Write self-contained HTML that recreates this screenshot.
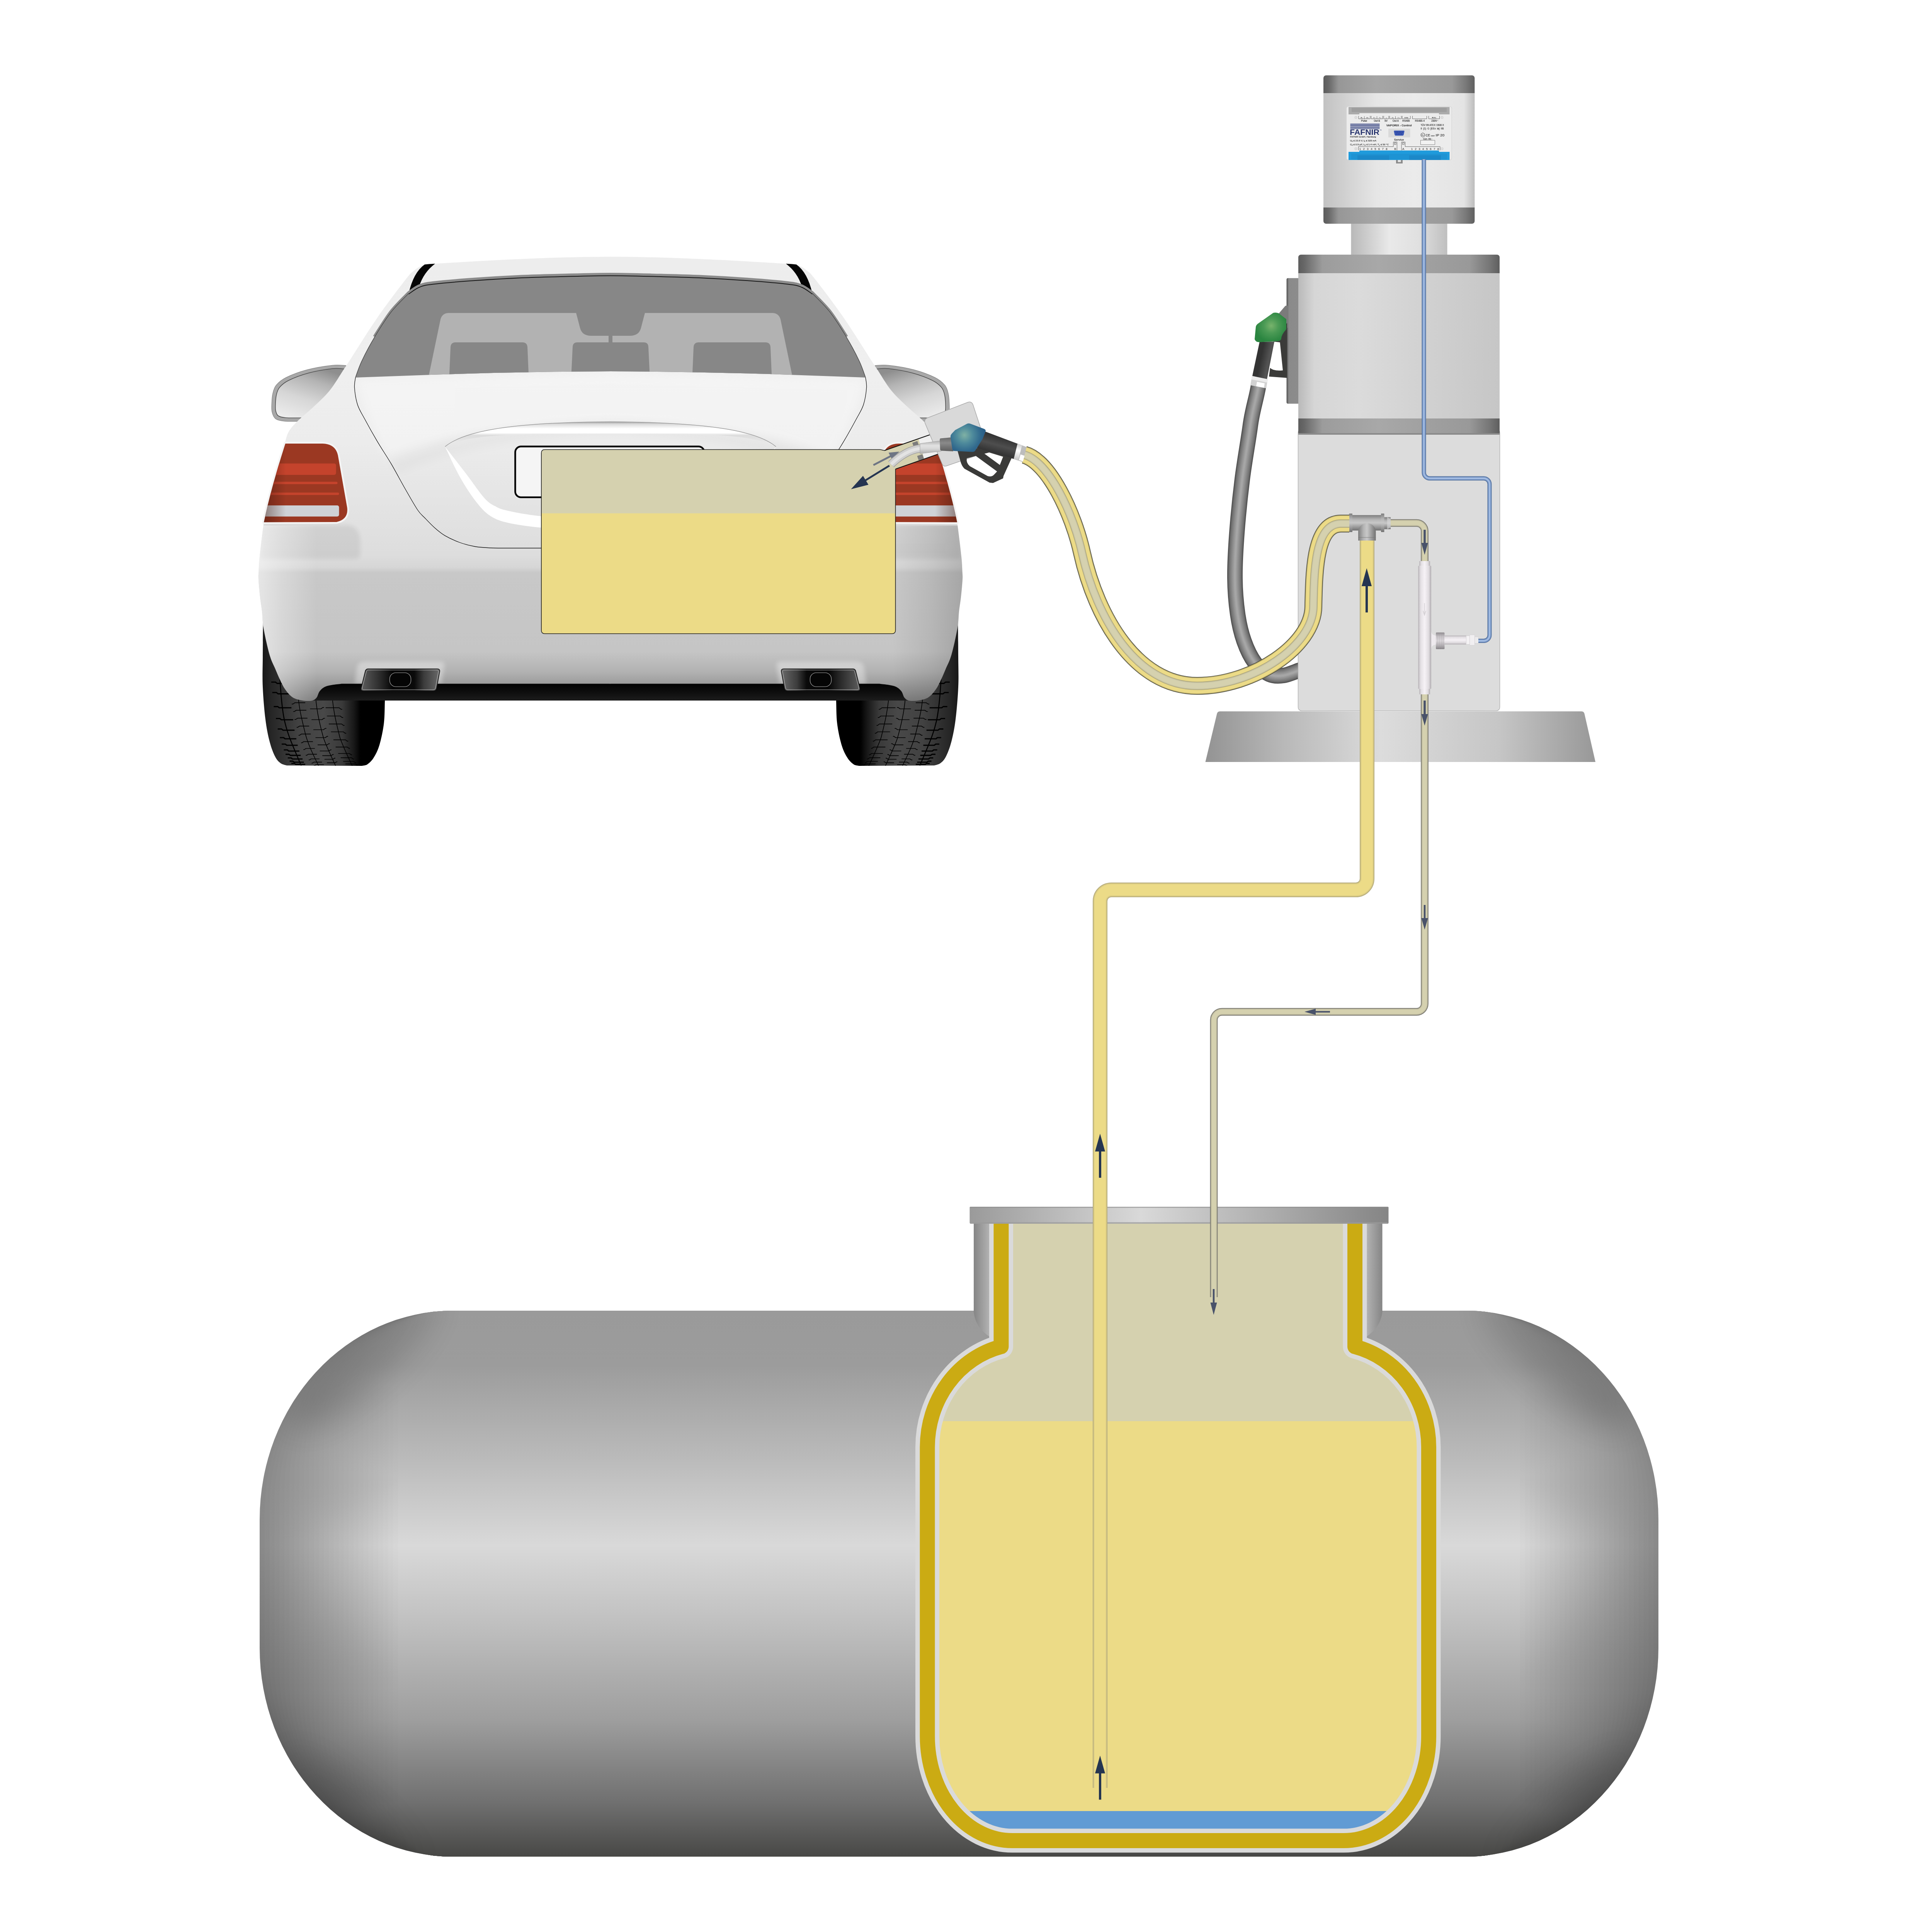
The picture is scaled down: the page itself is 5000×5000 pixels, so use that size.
<!DOCTYPE html>
<html lang="en">
<head>
<meta charset="utf-8">
<title>VAPORIX vapour recovery monitoring</title>
<style>
html,body{margin:0;padding:0;background:#fff;}
svg{display:block;}
text{font-family:"Liberation Sans",sans-serif;}
</style>
</head>
<body>
<svg width="5000" height="5000" viewBox="0 0 5000 5000">
<defs>
<linearGradient id="tankV" x1="0" y1="3392" x2="0" y2="4805" gradientUnits="userSpaceOnUse">
<stop offset="0" stop-color="#9a9a9a"/><stop offset="0.1" stop-color="#9c9c9c"/><stop offset="0.28" stop-color="#bcbcbc"/><stop offset="0.43" stop-color="#d9d9d9"/><stop offset="0.55" stop-color="#c4c4c4"/><stop offset="0.75" stop-color="#9e9e9e"/><stop offset="0.9" stop-color="#707070"/><stop offset="1" stop-color="#484846"/>
</linearGradient>
<linearGradient id="capL" x1="672" y1="0" x2="1230" y2="0" gradientUnits="userSpaceOnUse">
<stop offset="0" stop-color="#000" stop-opacity="0.30"/><stop offset="0.5" stop-color="#000" stop-opacity="0.10"/><stop offset="1" stop-color="#000" stop-opacity="0"/>
</linearGradient>
<linearGradient id="capR" x1="4292" y1="0" x2="3734" y2="0" gradientUnits="userSpaceOnUse">
<stop offset="0" stop-color="#000" stop-opacity="0.30"/><stop offset="0.5" stop-color="#000" stop-opacity="0.10"/><stop offset="1" stop-color="#000" stop-opacity="0"/>
</linearGradient>
<linearGradient id="lidG" x1="2509" y1="0" x2="3593" y2="0" gradientUnits="userSpaceOnUse">
<stop offset="0" stop-color="#9a9a9a"/><stop offset="0.41" stop-color="#d9d9d9"/><stop offset="1" stop-color="#858585"/>
</linearGradient>
<linearGradient id="neckL" x1="2520" y1="0" x2="2560" y2="0" gradientUnits="userSpaceOnUse">
<stop offset="0" stop-color="#858585"/><stop offset="1" stop-color="#b2b2b2"/>
</linearGradient>
<linearGradient id="neckR" x1="3537" y1="0" x2="3578" y2="0" gradientUnits="userSpaceOnUse">
<stop offset="0" stop-color="#b2b2b2"/><stop offset="1" stop-color="#858585"/>
</linearGradient>
<clipPath id="jarClip"><path d="M2591 3160 L2591 3485 A251.5 268 0 0 0 2400 3745 L2400 4493 A220 270 0 0 0 2620 4763.5 L3477.5 4763.5 A220 270 0 0 0 3697.5 4493 L3697.5 3745 A251.5 268 0 0 0 3506.5 3485 L3506.5 3160 Z"/></clipPath>
<clipPath id="tankClip"><rect x="672" y="3392" width="3620" height="1413" rx="500" ry="540"/></clipPath>
<path id="jarPath" d="M2591 3160 L2591 3485 A251.5 268 0 0 0 2400 3745 L2400 4493 A220 270 0 0 0 2620 4763.5 L3477.5 4763.5 A220 270 0 0 0 3697.5 4493 L3697.5 3745 A251.5 268 0 0 0 3506.5 3485 L3506.5 3160"/>
<path id="yPipe" d="M3538 1398 L3538 2274 A29 29 0 0 1 3509 2303 L2876 2303 A29 29 0 0 0 2847 2332 L2847 4627"/>
<path id="vPipeA" d="M3598 1353.5 L3666 1353.5 A21 21 0 0 1 3687 1374.5 L3687 1456"/>
<path id="vPipeB" d="M3687 1794 L3687 2597.6 A21 21 0 0 1 3666 2618.6 L3162.5 2618.6 A21 21 0 0 0 3141.5 2639.6 L3141.5 3357"/>
<path id="cable" d="M3685 412 L3685 1223 A15 15 0 0 0 3700 1238 L3840 1238 A15 15 0 0 1 3855 1253 L3855 1643.5 A15 15 0 0 1 3840 1658.5 L3826 1658.5"/>
<path id="arrUp" d="M0 0 L13 46 L3 46 L3 114 L-3 114 L-3 46 L-13 46 Z"/>
<linearGradient id="topBoxG" x1="3425" y1="0" x2="3816" y2="0" gradientUnits="userSpaceOnUse">
<stop offset="0" stop-color="#c2c2c2"/><stop offset="0.35" stop-color="#e6e6e6"/><stop offset="0.6" stop-color="#ebebeb"/><stop offset="0.93" stop-color="#e4e4e4"/><stop offset="1" stop-color="#bdbdbd"/>
</linearGradient>
<linearGradient id="topBandG" x1="3425" y1="0" x2="3816" y2="0" gradientUnits="userSpaceOnUse">
<stop offset="0" stop-color="#5c5c5c"/><stop offset="0.035" stop-color="#686868"/><stop offset="0.1" stop-color="#979797"/><stop offset="0.35" stop-color="#a6a6a6"/><stop offset="0.85" stop-color="#999"/><stop offset="0.94" stop-color="#7a7a7a"/><stop offset="1" stop-color="#606060"/>
</linearGradient>
<linearGradient id="neckG" x1="3496" y1="0" x2="3746" y2="0" gradientUnits="userSpaceOnUse">
<stop offset="0" stop-color="#b8b8b8"/><stop offset="0.4" stop-color="#e9e9e9"/><stop offset="0.7" stop-color="#e0e0e0"/><stop offset="1" stop-color="#bfbfbf"/>
</linearGradient>
<linearGradient id="midBoxG" x1="3360" y1="0" x2="3881" y2="0" gradientUnits="userSpaceOnUse">
<stop offset="0" stop-color="#b9b9b9"/><stop offset="0.08" stop-color="#d6d6d6"/><stop offset="0.3" stop-color="#dbdbdb"/><stop offset="0.7" stop-color="#cfcfcf"/><stop offset="1" stop-color="#c6c6c6"/>
</linearGradient>
<linearGradient id="midBandG" x1="3360" y1="0" x2="3881" y2="0" gradientUnits="userSpaceOnUse">
<stop offset="0" stop-color="#5c5c5c"/><stop offset="0.03" stop-color="#686868"/><stop offset="0.12" stop-color="#9c9c9c"/><stop offset="0.4" stop-color="#a8a8a8"/><stop offset="0.85" stop-color="#999"/><stop offset="0.95" stop-color="#767676"/><stop offset="1" stop-color="#5e5e5e"/>
</linearGradient>
<linearGradient id="baseG" x1="3119" y1="0" x2="4130" y2="0" gradientUnits="userSpaceOnUse">
<stop offset="0" stop-color="#939393"/><stop offset="0.2" stop-color="#b8b8b8"/><stop offset="0.45" stop-color="#dcdcdc"/><stop offset="0.75" stop-color="#c6c6c6"/><stop offset="1" stop-color="#989898"/>
</linearGradient>
<linearGradient id="plateG" x1="3329" y1="0" x2="3360" y2="0" gradientUnits="userSpaceOnUse">
<stop offset="0" stop-color="#585858"/><stop offset="0.12" stop-color="#6a6a6a"/><stop offset="0.2" stop-color="#8a8a8a"/><stop offset="1" stop-color="#8c8c8c"/>
</linearGradient>
<clipPath id="topBoxClip"><rect x="3425" y="195" width="391.4" height="384" rx="7"/></clipPath>
<clipPath id="midBoxClip"><path d="M3360 667 Q3360 659 3368 659 L3873 659 Q3881 659 3881 667 L3881 1125 L3360 1125 Z"/></clipPath>
<linearGradient id="metalV" x1="0" y1="0" x2="0" y2="1">
<stop offset="0" stop-color="#7e7e7e"/><stop offset="0.3" stop-color="#b6b6b6"/><stop offset="0.5" stop-color="#c8c8c8"/><stop offset="0.75" stop-color="#9e9e9e"/><stop offset="1" stop-color="#727272"/>
</linearGradient>
<linearGradient id="metalH" x1="0" y1="0" x2="1" y2="0">
<stop offset="0" stop-color="#7c7c7c"/><stop offset="0.3" stop-color="#b4b4b4"/><stop offset="0.5" stop-color="#c8c8c8"/><stop offset="0.75" stop-color="#9e9e9e"/><stop offset="1" stop-color="#727272"/>
</linearGradient>
<linearGradient id="whiteH" x1="0" y1="0" x2="1" y2="0">
<stop offset="0" stop-color="#b9b5b9"/><stop offset="0.2" stop-color="#e4e0e4"/><stop offset="0.5" stop-color="#f6f2f6"/><stop offset="0.8" stop-color="#e0dce0"/><stop offset="1" stop-color="#b2aeb2"/>
</linearGradient>
<linearGradient id="whiteV" x1="0" y1="0" x2="0" y2="1">
<stop offset="0" stop-color="#b9b5b9"/><stop offset="0.2" stop-color="#e4e0e4"/><stop offset="0.5" stop-color="#f6f2f6"/><stop offset="0.8" stop-color="#e0dce0"/><stop offset="1" stop-color="#b2aeb2"/>
</linearGradient>
<linearGradient id="nutV" x1="0" y1="0" x2="0" y2="1">
<stop offset="0" stop-color="#8e8a8e"/><stop offset="0.25" stop-color="#c8c4c8"/><stop offset="0.5" stop-color="#dcd8dc"/><stop offset="0.8" stop-color="#b0acb0"/><stop offset="1" stop-color="#858185"/>
</linearGradient>
<path id="yHose" d="M2651 1177 C2715 1195 2778 1330 2800 1430 C2837 1598 2940 1775 3098 1775 C3245 1775 3398 1670 3399 1570 C3401 1470 3404 1356 3470 1355 L3492 1355"/>
<path id="gHose" d="M3257.0 998.0 C3252 1030 3241.3 1060.0 3236.0 1100.0 C3230.7 1140.0 3220.8 1193.4 3215.0 1240.0 C3209.2 1286.6 3204.2 1336.8 3201.0 1379.5 C3197.8 1422.2 3195.7 1461.1 3196.0 1496.0 C3196.3 1530.9 3199.1 1561.8 3203.0 1589.0 C3206.9 1616.2 3212.1 1638.0 3219.5 1659.0 C3226.9 1680.0 3236.6 1700.2 3247.5 1715.0 C3258.4 1729.8 3272.6 1739.3 3285.0 1745 C3297.4 1750.5 3309.2 1750 3322.0 1748.0 C3334.8 1746 3355.3 1737.0 3362.0 1735.0 L3390 1726"/>
<radialGradient id="greenG" cx="3290" cy="843" r="42" gradientUnits="userSpaceOnUse">
<stop offset="0" stop-color="#78b36c"/><stop offset="0.45" stop-color="#4b9a55"/><stop offset="1" stop-color="#2a8540"/>
</radialGradient>
<linearGradient id="handleG" x1="3262" y1="930" x2="3300" y2="938" gradientUnits="userSpaceOnUse">
<stop offset="0" stop-color="#333"/><stop offset="0.55" stop-color="#545454"/><stop offset="1" stop-color="#3a3a3a"/>
</linearGradient>
<radialGradient id="blueG" cx="2496" cy="1126" r="52" gradientUnits="userSpaceOnUse">
<stop offset="0" stop-color="#7fb1a4"/><stop offset="0.4" stop-color="#4f8b9c"/><stop offset="0.8" stop-color="#31698d"/><stop offset="1" stop-color="#2b5f88"/>
</radialGradient>
<linearGradient id="gripG" x1="2590" y1="1128" x2="2578" y2="1172" gradientUnits="userSpaceOnUse">
<stop offset="0" stop-color="#303030"/><stop offset="0.55" stop-color="#4e4e4e"/><stop offset="1" stop-color="#343434"/>
</linearGradient>
<linearGradient id="collarG" x1="0" y1="1132" x2="0" y2="1168" gradientUnits="userSpaceOnUse">
<stop offset="0" stop-color="#6a6a6a"/><stop offset="0.4" stop-color="#8a8a8a"/><stop offset="1" stop-color="#5e5e5e"/>
</linearGradient>
<linearGradient id="spoutG" x1="0" y1="1142" x2="0" y2="1174" gradientUnits="userSpaceOnUse">
<stop offset="0" stop-color="#b5b5b5"/><stop offset="0.35" stop-color="#e2e2e2"/><stop offset="0.6" stop-color="#d8d8d8"/><stop offset="1" stop-color="#ababab"/>
</linearGradient>
<linearGradient id="ringG" x1="2638" y1="1150" x2="2628" y2="1190" gradientUnits="userSpaceOnUse">
<stop offset="0" stop-color="#d0d0d0"/><stop offset="0.4" stop-color="#ffffff"/><stop offset="1" stop-color="#c4c4c4"/>
</linearGradient>
<linearGradient id="tankRim" x1="0" y1="3392" x2="0" y2="4805" gradientUnits="userSpaceOnUse">
<stop offset="0" stop-color="#848484"/><stop offset="0.15" stop-color="#888"/><stop offset="0.43" stop-color="#8a8a8a"/><stop offset="0.7" stop-color="#717171"/><stop offset="0.92" stop-color="#515151"/><stop offset="1" stop-color="#474745"/>
</linearGradient>
<filter id="blur40" x="600" y="3300" width="3800" height="1600" filterUnits="userSpaceOnUse"><feGaussianBlur stdDeviation="40"/></filter>


<linearGradient id="bodyG" x1="0" y1="664" x2="0" y2="1813" gradientUnits="userSpaceOnUse">
<stop offset="0" stop-color="#ededed"/><stop offset="0.27" stop-color="#efefef"/><stop offset="0.42" stop-color="#ececec"/><stop offset="0.55" stop-color="#e4e4e4"/><stop offset="0.672" stop-color="#dddddd"/><stop offset="0.70" stop-color="#d6d6d6"/><stop offset="0.712" stop-color="#c8c8c8"/><stop offset="0.89" stop-color="#c5c5c5"/><stop offset="0.935" stop-color="#b2b2b2"/><stop offset="0.965" stop-color="#9a9a9a"/><stop offset="0.99" stop-color="#868686"/><stop offset="1" stop-color="#7e7e7e"/>
</linearGradient>
<linearGradient id="bumpHL" x1="668" y1="0" x2="820" y2="0" gradientUnits="userSpaceOnUse">
<stop offset="0" stop-color="#fff" stop-opacity="0.55"/><stop offset="0.4" stop-color="#fff" stop-opacity="0.3"/><stop offset="1" stop-color="#fff" stop-opacity="0"/>
</linearGradient>
<linearGradient id="tireG" x1="677" y1="0" x2="997" y2="0" gradientUnits="userSpaceOnUse">
<stop offset="0" stop-color="#161616"/><stop offset="0.08" stop-color="#262626"/><stop offset="0.3" stop-color="#424242"/><stop offset="0.5" stop-color="#484848"/><stop offset="0.65" stop-color="#3a3a3a"/><stop offset="0.75" stop-color="#161616"/><stop offset="0.8" stop-color="#000"/><stop offset="1" stop-color="#000"/>
</linearGradient>
<linearGradient id="underG" x1="0" y1="1764" x2="0" y2="1813" gradientUnits="userSpaceOnUse">
<stop offset="0" stop-color="#000"/><stop offset="0.5" stop-color="#0c0c0c"/><stop offset="1" stop-color="#1c1c1c"/>
</linearGradient>
<linearGradient id="mirrorG" x1="815" y1="948" x2="770" y2="1088" gradientUnits="userSpaceOnUse">
<stop offset="0" stop-color="#8e8e8e"/><stop offset="0.25" stop-color="#b4b4b4"/><stop offset="0.6" stop-color="#d6d6d6"/><stop offset="1" stop-color="#ececec"/>
</linearGradient>
<linearGradient id="lampG" x1="683" y1="0" x2="760" y2="0" gradientUnits="userSpaceOnUse">
<stop offset="0" stop-color="#9b3822"/><stop offset="1" stop-color="#9b3822"/>
</linearGradient>
<linearGradient id="lampShade" x1="675" y1="0" x2="740" y2="0" gradientUnits="userSpaceOnUse">
<stop offset="0" stop-color="#3a1208" stop-opacity="0.5"/><stop offset="1" stop-color="#3a1208" stop-opacity="0"/>
</linearGradient>
<linearGradient id="chromeG" x1="0" y1="1091" x2="0" y2="1156" gradientUnits="userSpaceOnUse">
<stop offset="0" stop-color="#9c9c9c"/><stop offset="0.1" stop-color="#dadada"/><stop offset="0.28" stop-color="#ffffff"/><stop offset="0.45" stop-color="#ffffff"/><stop offset="0.55" stop-color="#dcdcdc"/><stop offset="1" stop-color="#efefef"/>
</linearGradient>
<linearGradient id="exhG" x1="934" y1="0" x2="1138" y2="0" gradientUnits="userSpaceOnUse">
<stop offset="0" stop-color="#5e5e5e"/><stop offset="0.25" stop-color="#2a2a2a"/><stop offset="0.4" stop-color="#050505"/><stop offset="0.68" stop-color="#0a0a0a"/><stop offset="0.8" stop-color="#3c3c3c"/><stop offset="1" stop-color="#6a6a6a"/>
</linearGradient>
<filter id="blur6" x="-20%" y="-20%" width="140%" height="140%"><feGaussianBlur stdDeviation="6"/></filter>
<filter id="blur12" x="-20%" y="-20%" width="140%" height="140%"><feGaussianBlur stdDeviation="12"/></filter>
<linearGradient id="bumpSH" x1="668" y1="0" x2="850" y2="0" gradientUnits="userSpaceOnUse">
<stop offset="0" stop-color="#000" stop-opacity="0.17"/><stop offset="0.45" stop-color="#000" stop-opacity="0.08"/><stop offset="1" stop-color="#000" stop-opacity="0"/>
</linearGradient>
<clipPath id="winClip"><path d="M1582.0 712.0 C1538.0 712.0 1488.7 713.6 1450.0 714.5 C1411.3 715.4 1386.7 715.8 1350.0 717.5 C1313.3 719.2 1267.9 721.8 1229.7 724.5 C1191.5 727.2 1145.1 731.1 1121.0 734.0 C1096.9 736.9 1095.6 737.8 1085.0 742.0 C1074.4 746.2 1062.2 756.6 1057.6 759.5 L1057.6 759.5 C1050.0 767.6 1026.8 789.0 1012.0 808.0 C997.2 827.0 981.5 852.4 968.8 873.6 C956.1 894.8 944.1 917.8 936.0 935.0 C927.9 952.2 922.7 970.0 920.0 977.0 L1115.6 970 Q1350 961.5 1582 961 Z"/></clipPath>
<clipPath id="bodyClip"><path d="M1582.0 664.5 C1538.0 664.5 1497.0 665.2 1450.0 666.5 C1403.0 667.8 1341.7 670.6 1300.0 672.5 C1258.3 674.4 1229.0 676.3 1200.0 678.0 C1171.0 679.7 1138.3 681.8 1126.0 682.5 L1126.0 682.5 C1121.5 682.8 1108.0 681.6 1099.0 684.5 C1090.0 687.4 1080.4 693.2 1072.0 700.0 C1063.6 706.8 1064.5 704.5 1048.5 725.0 C1032.5 745.5 1000.1 788.0 976.0 823.0 C951.9 858.0 918.1 912.7 903.6 935.0 C889.1 957.3 897.4 944.3 889.0 957.0 C880.6 969.7 866.3 994.7 853.0 1011.0 C839.7 1027.3 822.7 1042.1 809.4 1054.8 C796.1 1067.5 783.3 1076.8 773.0 1087.0 C762.7 1097.2 753.8 1106.0 747.8 1116.0 C741.8 1126.0 738.8 1141.8 737.0 1147.0 L737.0 1147.0 C732.8 1162.5 720.2 1210.3 712.0 1240.0 C703.8 1269.7 693.0 1305.3 688.0 1325.0 C683.0 1344.7 684.7 1338.8 682.0 1358.0 C679.3 1377.2 674.1 1420.0 672.0 1440.0 C669.9 1460.0 670.0 1468.0 669.5 1478.0 C669.0 1488.0 668.4 1488.8 669.0 1500.0 C669.6 1511.2 671.5 1531.3 673.0 1545.0 C674.5 1558.7 676.5 1568.7 678.0 1582.0 C679.5 1595.3 678.8 1606.3 682.0 1625.0 C685.2 1643.7 692.5 1676.5 697.5 1694.0 C702.5 1711.5 707.4 1719.0 712.0 1730.0 C716.6 1741.0 720.7 1751.0 725.0 1760.0 C729.3 1769.0 732.7 1776.6 738.0 1784.0 C743.3 1791.4 749.8 1799.8 757.0 1804.5 C764.2 1809.2 772.8 1811.0 781.0 1812.5 C789.2 1814.0 799.7 1814.6 806.0 1813.5 C812.3 1812.4 815.3 1810.2 819.0 1806.0 C822.7 1801.8 823.5 1793.1 828.0 1788.0 C832.5 1782.9 836.7 1778.6 846.0 1775.5 C855.3 1772.4 877.7 1770.5 884.0 1769.5 L1582 1769.5 Z"/></clipPath>
<clipPath id="tireClip"><path d="M681.0 1590.0 C680.8 1608.3 680.2 1668.7 680.0 1700.0 C679.8 1731.3 678.8 1751.0 680.0 1778.0 C681.2 1805.0 684.0 1838.3 687.0 1862.0 C690.0 1885.7 693.8 1904.0 698.0 1920.0 C702.2 1936.0 707.3 1948.8 712.0 1958.0 C716.7 1967.2 721.0 1971.2 726.0 1975.0 C731.0 1978.8 739.3 1980.0 742.0 1981.0 L937 1982 L937.0 1982.0 C939.3 1981.3 946.0 1981.5 951.0 1978.0 C956.0 1974.5 961.8 1969.3 967.0 1961.0 C972.2 1952.7 977.6 1942.8 982.0 1928.0 C986.4 1913.2 991.2 1891.0 993.5 1872.0 C995.8 1853.0 995.4 1829.3 996.0 1814.0 C996.6 1798.7 996.8 1785.7 997.0 1780.0 L997 1600 Z"/></clipPath>
<clipPath id="lampClip"><path d="M738.5 1148 L835 1148 Q868 1149 874.5 1178 L898.5 1314 Q902 1344 871 1351 L683 1351.5 Q700 1268 738.5 1148 Z"/></clipPath>

</defs>
<rect width="5000" height="5000" fill="#fff"/>
<g id="tank">
<rect x="672" y="3392" width="3620" height="1413" rx="500" ry="540" fill="url(#tankRim)"/>
<g clip-path="url(#tankClip)">
<rect x="684.8" y="3392" width="3594.4" height="1413" rx="486.1" ry="525.0" fill="url(#tankV)" opacity="0.0357"/>
<rect x="697.6" y="3392" width="3568.9" height="1413" rx="472.1" ry="510.0" fill="url(#tankV)" opacity="0.0370"/>
<rect x="710.4" y="3392" width="3543.3" height="1413" rx="458.2" ry="495.0" fill="url(#tankV)" opacity="0.0385"/>
<rect x="723.1" y="3392" width="3517.7" height="1413" rx="444.3" ry="480.0" fill="url(#tankV)" opacity="0.0400"/>
<rect x="735.9" y="3392" width="3492.1" height="1413" rx="430.4" ry="465.0" fill="url(#tankV)" opacity="0.0417"/>
<rect x="748.7" y="3392" width="3466.6" height="1413" rx="416.4" ry="450.0" fill="url(#tankV)" opacity="0.0435"/>
<rect x="761.5" y="3392" width="3441.0" height="1413" rx="402.5" ry="435.0" fill="url(#tankV)" opacity="0.0455"/>
<rect x="774.3" y="3392" width="3415.4" height="1413" rx="388.6" ry="420.0" fill="url(#tankV)" opacity="0.0476"/>
<rect x="787.1" y="3392" width="3389.9" height="1413" rx="374.6" ry="405.0" fill="url(#tankV)" opacity="0.0500"/>
<rect x="799.9" y="3392" width="3364.3" height="1413" rx="360.7" ry="390.0" fill="url(#tankV)" opacity="0.0526"/>
<rect x="812.6" y="3392" width="3338.7" height="1413" rx="346.8" ry="375.0" fill="url(#tankV)" opacity="0.0556"/>
<rect x="825.4" y="3392" width="3313.1" height="1413" rx="332.9" ry="360.0" fill="url(#tankV)" opacity="0.0588"/>
<rect x="838.2" y="3392" width="3287.6" height="1413" rx="318.9" ry="345.0" fill="url(#tankV)" opacity="0.0625"/>
<rect x="851.0" y="3392" width="3262.0" height="1413" rx="305.0" ry="330.0" fill="url(#tankV)" opacity="0.0667"/>
<rect x="863.8" y="3392" width="3236.4" height="1413" rx="291.1" ry="315.0" fill="url(#tankV)" opacity="0.0714"/>
<rect x="876.6" y="3392" width="3210.9" height="1413" rx="277.1" ry="300.0" fill="url(#tankV)" opacity="0.0769"/>
<rect x="889.4" y="3392" width="3185.3" height="1413" rx="263.2" ry="285.0" fill="url(#tankV)" opacity="0.0833"/>
<rect x="902.1" y="3392" width="3159.7" height="1413" rx="249.3" ry="270.0" fill="url(#tankV)" opacity="0.0909"/>
<rect x="914.9" y="3392" width="3134.1" height="1413" rx="235.4" ry="255.0" fill="url(#tankV)" opacity="0.1000"/>
<rect x="927.7" y="3392" width="3108.6" height="1413" rx="221.4" ry="240.0" fill="url(#tankV)" opacity="0.1111"/>
<rect x="940.5" y="3392" width="3083.0" height="1413" rx="207.5" ry="225.0" fill="url(#tankV)" opacity="0.1250"/>
<rect x="953.3" y="3392" width="3057.4" height="1413" rx="193.6" ry="210.0" fill="url(#tankV)" opacity="0.1429"/>
<rect x="966.1" y="3392" width="3031.9" height="1413" rx="179.6" ry="195.0" fill="url(#tankV)" opacity="0.1667"/>
<rect x="978.9" y="3392" width="3006.3" height="1413" rx="165.7" ry="180.0" fill="url(#tankV)" opacity="0.2000"/>
<rect x="991.6" y="3392" width="2980.7" height="1413" rx="151.8" ry="165.0" fill="url(#tankV)" opacity="0.2500"/>
<rect x="1004.4" y="3392" width="2955.1" height="1413" rx="137.9" ry="150.0" fill="url(#tankV)" opacity="0.3333"/>
<rect x="1017.2" y="3392" width="2929.6" height="1413" rx="123.9" ry="135.0" fill="url(#tankV)" opacity="0.5000"/>
<rect x="1030.0" y="3392" width="2904.0" height="1413" rx="110.0" ry="120.0" fill="url(#tankV)" opacity="1.0000"/>
</g>
<g clip-path="url(#tankClip)" filter="url(#blur40)" fill="#000" opacity="0.14">
<ellipse cx="0" cy="0" rx="250" ry="75" transform="translate(935 3520) rotate(-42)"/>
<ellipse cx="0" cy="0" rx="250" ry="75" transform="translate(4029 3520) rotate(42)"/>
<ellipse cx="0" cy="0" rx="230" ry="60" transform="translate(905 4690) rotate(42)" opacity="0.6"/>
<ellipse cx="0" cy="0" rx="230" ry="60" transform="translate(4059 4690) rotate(-42)" opacity="0.6"/>
</g>
<!-- neck outer -->
<path d="M2520 3160 L2520 3395 Q2524 3436 2562 3460 L2562 3160 Z" fill="url(#neckL)"/>
<path d="M3577.5 3160 L3577.5 3395 Q3573 3436 3535 3460 L3535 3160 Z" fill="url(#neckR)"/>
<!-- contents -->
<g clip-path="url(#jarClip)">
<rect x="2380" y="3150" width="1340" height="528" fill="#d5d1af"/>
<rect x="2380" y="3678" width="1340" height="1009" fill="#ecdb87"/>
<rect x="2380" y="4687" width="1340" height="90" fill="#619bd4"/>
</g>
<use href="#jarPath" fill="none" stroke="#dadada" stroke-width="62" stroke-linejoin="round"/>
<use href="#jarPath" fill="none" stroke="#cbab13" stroke-width="39" stroke-linejoin="round"/>
</g>

<g id="hoseback" fill="none">
<use href="#gHose" stroke="#4d4d4d" stroke-width="40"/>
<use href="#gHose" stroke="#5e5e5e" stroke-width="37"/>
<use href="#gHose" stroke="#6e6e6e" stroke-width="33"/>
<use href="#gHose" stroke="#7b7b7b" stroke-width="28"/>
<use href="#gHose" stroke="#878787" stroke-width="22"/>
<use href="#gHose" stroke="#939393" stroke-width="16"/>
<use href="#gHose" stroke="#9d9d9d" stroke-width="10"/>
<use href="#gHose" stroke="#a6a6a6" stroke-width="5"/>
</g>

<g id="dispenser">
<!-- base -->
<path d="M3157 1841 L4093 1841 Q4099 1841 4100.5 1847 L4129 1972 L3119.5 1972 L3149.5 1847 Q3151 1841 3157 1841 Z" fill="url(#baseG)"/>

<!-- neck -->
<rect x="3496.5" y="575" width="249" height="88" fill="url(#neckG)"/>
<!-- lower body -->
<rect x="3359" y="1110" width="523" height="730" rx="9" fill="#dcdcdc"/>
<rect x="3359.5" y="1110.5" width="522" height="729" rx="9" fill="none" stroke="#b5b5b5" stroke-width="1.5"/>
<!-- nozzle holder plate -->
<rect x="3329.5" y="719.7" width="34" height="325" rx="4" fill="url(#plateG)"/>
<!-- middle box -->
<g clip-path="url(#midBoxClip)">
<rect x="3360" y="659" width="521" height="466" fill="url(#midBoxG)"/>
<rect x="3360" y="659" width="521" height="48" fill="url(#midBandG)"/>
<rect x="3360" y="1083" width="521" height="38" fill="url(#midBandG)"/>
<rect x="3360" y="1121" width="521" height="4" fill="#8a8a8a"/>
</g>
<!-- top box -->
<g clip-path="url(#topBoxClip)">
<rect x="3425" y="195" width="392" height="384" fill="url(#topBoxG)"/>
<rect x="3425" y="195" width="392" height="46" fill="url(#topBandG)"/>
<rect x="3425" y="537" width="392" height="42" fill="url(#topBandG)"/>
</g>
</g>

<g id="fafnirbox">
<rect x="3484.5" y="275.5" width="272.5" height="138.5" rx="5" fill="#ececec" stroke="#d4d4d4" stroke-width="1.2"/>
<path d="M3490 277 L3751.5 277 L3751.5 296 L3724 296 L3724 293 L3518 293 L3518 296 L3490 296 Z" fill="#ababab"/>
<rect x="3498" y="279" width="246" height="11" fill="#9e9e9e"/>
<path d="M3490 414 L3490 393 L3518 393 L3518 389.5 L3724 389.5 L3724 393 L3751.5 393 L3751.5 414 Z" fill="#1f9bdc"/>
<path d="M3497 398 L3745 398 L3745 412.5 L3497 412.5 Z" fill="#1e93d3"/>
<rect x="3513" y="402" width="82" height="12" fill="#1b88c8"/>
<rect x="3647" y="402" width="82" height="12" fill="#1b88c8"/>
<rect x="3613" y="414" width="17" height="9" fill="#8a8a8a"/><rect x="3617.5" y="414" width="8" height="5.5" fill="#e6e6e6"/>
<!-- screws -->
<g fill="#e0e0e0" stroke="#c4c4c4" stroke-width="0.7"><circle cx="3509" cy="304" r="3.2"/><circle cx="3732" cy="304" r="3.2"/><circle cx="3509" cy="385" r="3.2"/><circle cx="3732" cy="385" r="3.2"/></g>
<!-- top terminal brackets -->
<g fill="none" stroke="#444" stroke-width="0.8">
<path d="M3516 300 V307.5 H3546 V300 M3531 301 V307.5"/>
<path d="M3548.5 300 V307.5 H3578.5 V300 M3563.5 301 V307.5"/>
<path d="M3581 300 V307.5 H3594 V300"/>
<path d="M3596.5 300 V307.5 H3626.5 V300 M3611.5 301 V307.5"/>
<path d="M3629 300 V307.5 H3650 V300"/>
<path d="M3655.5 300 V307.5 H3692.5 V300"/>
<path d="M3697.5 300 V307.5 H3725.5 V300"/>
</g>
<g font-size="3.6" fill="#222" text-anchor="middle" font-weight="bold">
<text x="3523.5" y="305.6">- B +</text><text x="3538.5" y="305.6">- A +</text>
<text x="3556" y="305.6">- 2 +</text><text x="3571" y="305.6">- 1 +</text>
<text x="3587.5" y="305.6">- +</text>
<text x="3604" y="305.6">- 2 +</text><text x="3619" y="305.6">- 1 +</text>
<text x="3639.5" y="305.6">G B A</text>
<text x="3711.5" y="305.6">PE N L</text>
</g>
<g font-size="6.3" fill="#222" text-anchor="middle" stroke="#222" stroke-width="0.15">
<text x="3530.5" y="314.8">Pulse</text><text x="3563.5" y="314.8">Out B</text><text x="3587" y="314.8">5V</text><text x="3612" y="314.8">Out A</text><text x="3639" y="314.8">RS485</text><text x="3674.5" y="314.8">RS485-4</text><text x="3713.5" y="314.8">230V~</text>
</g>
<!-- logo -->
<g fill="#2b3a7c"><rect x="3494.5" y="320.3" width="76" height="2.2"/><rect x="3494.5" y="324.2" width="76" height="2.2"/><rect x="3494.5" y="328.1" width="76" height="2.2"/><rect x="3494.5" y="332" width="76" height="1.6"/></g>
<text x="3493.3" y="349.3" font-size="19.6" font-weight="bold" fill="#27346e" textLength="76.5" lengthAdjust="spacingAndGlyphs">FAFNIR</text>
<text x="3571" y="337.5" font-size="3" fill="#27346e">TM</text>
<g font-size="5.9" fill="#222" stroke="#222" stroke-width="0.12">
<text x="3494" y="356.4" textLength="67" lengthAdjust="spacingAndGlyphs">FAFNIR GmbH, Hamburg</text>
<text x="3494" y="366.2" textLength="68" lengthAdjust="spacingAndGlyphs">U<tspan font-size="3.8" dy="1">0</tspan><tspan dy="-1"> ≤ 23.9 V, I</tspan><tspan font-size="3.8" dy="1">0</tspan><tspan dy="-1"> ≤ 325 mA</tspan></text>
<text x="3494" y="376" textLength="100" lengthAdjust="spacingAndGlyphs">C<tspan font-size="3.8" dy="1">0</tspan><tspan dy="-1"> ≤ 0.9 µF, L</tspan><tspan font-size="3.8" dy="1">0</tspan><tspan dy="-1"> ≤ 1.4 mH, T</tspan><tspan font-size="3.8" dy="1">a</tspan><tspan dy="-1"> ≤ 50 °C</tspan></text>
</g>
<text x="3620.7" y="326.5" font-size="6.6" font-weight="bold" fill="#222" text-anchor="middle" textLength="66" lengthAdjust="spacingAndGlyphs">VAPORIX - Control</text>
<rect x="3593" y="333" width="56.5" height="22.5" rx="1" fill="#dadada"/>
<circle cx="3598.5" cy="344.3" r="1.7" fill="#ececec" stroke="#bbb" stroke-width="0.5"/><circle cx="3644" cy="344.3" r="1.7" fill="#ececec" stroke="#bbb" stroke-width="0.5"/>
<path d="M3609 338 H3633 Q3635 338 3634.6 340 L3632.6 349 Q3632 351 3630 351 H3612 Q3610 351 3609.4 349 L3607.4 340 Q3607 338 3609 338 Z" fill="#3a57b4"/>
<g fill="#1c2d78"><circle cx="3613" cy="342" r="1"/><circle cx="3617" cy="342" r="1"/><circle cx="3621" cy="342" r="1"/><circle cx="3625" cy="342" r="1"/><circle cx="3629" cy="342" r="1"/><circle cx="3615" cy="346.8" r="1"/><circle cx="3619" cy="346.8" r="1"/><circle cx="3623" cy="346.8" r="1"/><circle cx="3627" cy="346.8" r="1"/></g>
<text x="3620.7" y="364.2" font-size="7.8" fill="#222" text-anchor="middle" stroke="#222" stroke-width="0.12">Service</text>
<g font-size="6.3" fill="#222" stroke="#222" stroke-width="0.12">
<text x="3676.5" y="326.3">TÜV 99 ATEX 1508 X</text>
<text x="3676.5" y="334.8" word-spacing="1.5">II (1) G [EEx ia] IIB</text>
<text x="3689.5" y="352.7" font-size="8.4">CE</text><text x="3703.3" y="352.7" font-size="4.4">0032</text><text x="3715.5" y="352.9" font-size="9.8">IP 20</text>
<text x="3683" y="361.5">Ger.-Nr.:</text>
</g>
<path d="M3682.3 343.8 L3687 346.5 V352 L3682.3 354.7 L3677.6 352 V346.5 Z" fill="none" stroke="#222" stroke-width="0.9"/><text x="3682.3" y="351" font-size="4.4" font-weight="bold" fill="#222" text-anchor="middle">Ex</text>
<rect x="3676.5" y="363" width="37" height="11.3" fill="#f2f2f2" stroke="#555" stroke-width="0.7"/>
<!-- bottom terminal brackets -->
<g fill="none" stroke="#444" stroke-width="0.8">
<path d="M3515.5 389 V379.5 H3606 V367.5 H3615.5 V389"/>
<path d="M3627 389 V367.5 H3636.5 V379.5 H3727 V389"/>
<rect x="3608.5" y="369.5" width="4.4" height="4.4" fill="#ececec"/><rect x="3629.6" y="369.5" width="4.4" height="4.4" fill="#ececec"/>
</g>
<g font-size="8" fill="#222" text-anchor="middle">
<text x="3520" y="387.6">1</text><text x="3529.8" y="387.6">2</text><text x="3539.6" y="387.6">3</text><text x="3549.4" y="387.6">4</text><text x="3559.2" y="387.6">5</text><text x="3569" y="387.6">6</text><text x="3578.8" y="387.6">7</text><text x="3588.6" y="387.6">8</text>
<text x="3611" y="387.6">B</text><text x="3631.7" y="387.6">A</text>
<text x="3654" y="387.6">1</text><text x="3663.7" y="387.6">2</text><text x="3673.4" y="387.6">3</text><text x="3683.1" y="387.6">4</text><text x="3692.8" y="387.6">5</text><text x="3702.5" y="387.6">6</text><text x="3712.2" y="387.6">7</text><text x="3721.9" y="387.6">8</text>
</g>
</g>

<g id="pipes" fill="none">
<!-- lid -->
<rect x="2509.5" y="3123" width="1084" height="44" rx="3" fill="url(#lidG)"/>
<rect x="2509.5" y="3123" width="1084" height="3" rx="1.5" fill="#8e8e8e" opacity="0.6"/>
<rect x="2512" y="3163" width="1079" height="4" fill="#9a9a9a" opacity="0.7"/>
<!-- yellow supply pipe -->
<use href="#yPipe" stroke="#b0a77e" stroke-width="38"/>
<use href="#yPipe" stroke="#c2b77f" stroke-width="36"/>
<use href="#yPipe" stroke="#d6c883" stroke-width="33.5"/>
<use href="#yPipe" stroke="#e3d386" stroke-width="31"/>
<use href="#yPipe" stroke="#ecdb87" stroke-width="28"/>
<!-- vapour return pipe -->
<use href="#vPipeB" stroke="#6e6d66" stroke-width="19.6"/>
<use href="#vPipeB" stroke="#9a9887" stroke-width="17.4"/>
<use href="#vPipeB" stroke="#bdb99e" stroke-width="15"/>
<use href="#vPipeB" stroke="#cfcbab" stroke-width="12.5"/>
<use href="#vPipeB" stroke="#d5d1af" stroke-width="10"/>
<!-- arrows -->
<use href="#arrUp" transform="translate(2847 4543.5)" fill="#253551"/>
<use href="#arrUp" transform="translate(2847 2934)" fill="#253551"/>
<g fill="#49526a">
<path d="M3141 3403 L3132.5 3371 L3138.7 3371 L3138.7 3336 L3143.3 3336 L3143.3 3371 L3149.5 3371 Z"/>
<path d="M3687 2406 L3678.5 2376 L3684.7 2376 L3684.7 2342 L3689.3 2342 L3689.3 2376 L3695.5 2376 Z"/>
<path d="M3376 2618.6 L3405 2610.6 L3405 2616.6 L3442 2616.6 L3442 2620.6 L3405 2620.6 L3405 2626.6 Z"/>
</g>
</g>
<g id="fittings" fill="none">
<!-- vapour pipe from T to sensor -->
<use href="#vPipeA" stroke="#6e6d66" stroke-width="19.6"/>
<use href="#vPipeA" stroke="#9a9887" stroke-width="17.4"/>
<use href="#vPipeA" stroke="#bdb99e" stroke-width="15"/>
<use href="#vPipeA" stroke="#cfcbab" stroke-width="12.5"/>
<use href="#vPipeA" stroke="#d5d1af" stroke-width="10"/>
<path d="M3687 1436 L3678.5 1405 L3684.2 1405 L3684.2 1371 L3689.8 1371 L3689.8 1405 L3695.5 1405 Z" fill="#49526a"/>
<path d="M3687 1878 L3678.5 1848 L3684.2 1848 L3684.2 1813 L3689.8 1813 L3689.8 1848 L3695.5 1848 Z" fill="#49526a"/>
<!-- big arrow in supply pipe -->
<path d="M3537 1470.5 L3550 1517 L3540 1517 L3540 1585 L3534 1585 L3534 1517 L3524 1517 Z" fill="#253551"/>
<!-- T fitting -->
<rect x="3582" y="1338.5" width="17" height="31" fill="url(#metalV)"/>
<path d="M3590 1338.5 L3599 1343 L3599 1365 L3590 1369.6 Z" fill="#dadada" opacity="0.6"/>
<rect x="3496" y="1333" width="84" height="40" fill="url(#metalV)"/>
<rect x="3491.5" y="1329" width="8.5" height="48" rx="1" fill="url(#metalV)"/>
<rect x="3574" y="1329" width="8.5" height="48" rx="1" fill="url(#metalV)"/>
<path d="M3515 1390 L3515 1376 A22.8 22 0 0 1 3560.6 1376 L3560.6 1390 Z" fill="url(#metalH)"/>
<rect x="3515" y="1390" width="45.6" height="9" fill="url(#metalH)"/>
<rect x="3515" y="1390" width="45.6" height="1.5" fill="#777" opacity="0.6"/>
<!-- sensor -->
<rect x="3673" y="1452" width="28" height="13" fill="url(#whiteH)"/>
<rect x="3673" y="1782" width="28" height="15" fill="url(#whiteH)"/>
<rect x="3704" y="1644.5" width="91" height="23.5" fill="url(#whiteV)"/>
<path d="M3704 1632 Q3704 1645 3718 1644.5 L3718 1668 Q3704 1668 3704 1682 Z" fill="#eeeaee"/>
<rect x="3670" y="1464" width="34" height="319" rx="2" fill="url(#whiteH)"/>
<path d="M3686.5 1561 L3686.5 1588 M3683 1581 L3686.5 1592 L3690 1581" stroke="#d3cfd3" stroke-width="1.6"/>
<rect x="3716" y="1636.7" width="22.5" height="43.3" rx="2" fill="url(#nutV)"/>
<path d="M3721 1637 V1680 M3726 1637 V1680 M3731 1637 V1680 M3735 1637 V1680" stroke="#a29ea2" stroke-width="0.8" opacity="0.7"/>
<rect x="3794.5" y="1645.5" width="9" height="22" fill="#f4f2f4" stroke="#d0cdd0" stroke-width="0.8"/>
<rect x="3803.5" y="1643" width="13" height="27" rx="1.5" fill="#f1eff1" stroke="#cfcccf" stroke-width="0.8"/>
<rect x="3816.5" y="1648" width="10" height="17" rx="1" fill="#ecebec" stroke="#cfcccf" stroke-width="0.8"/>
<!-- cable -->
<use href="#cable" stroke="#54729e" stroke-width="11"/>
<use href="#cable" stroke="#7f9ccb" stroke-width="7.6"/>
<use href="#cable" stroke="#a9c2e6" stroke-width="2.8"/>
</g>

<g id="car">
<g id="carHalf">
<path d="M681.0 1590.0 C680.8 1608.3 680.2 1668.7 680.0 1700.0 C679.8 1731.3 678.8 1751.0 680.0 1778.0 C681.2 1805.0 684.0 1838.3 687.0 1862.0 C690.0 1885.7 693.8 1904.0 698.0 1920.0 C702.2 1936.0 707.3 1948.8 712.0 1958.0 C716.7 1967.2 721.0 1971.2 726.0 1975.0 C731.0 1978.8 739.3 1980.0 742.0 1981.0 L937 1982 L937.0 1982.0 C939.3 1981.3 946.0 1981.5 951.0 1978.0 C956.0 1974.5 961.8 1969.3 967.0 1961.0 C972.2 1952.7 977.6 1942.8 982.0 1928.0 C986.4 1913.2 991.2 1891.0 993.5 1872.0 C995.8 1853.0 995.4 1829.3 996.0 1814.0 C996.6 1798.7 996.8 1785.7 997.0 1780.0 L997 1600 Z" fill="url(#tireG)"/>
<g clip-path="url(#tireClip)" stroke="#000" fill="none" stroke-linejoin="round">
<path d="M724 1740 C726 1800 732 1850 738 1872 C746 1905 757 1928 781 1985" stroke-width="2.6"/>
<path d="M771 1790 C773 1830 779 1853 790.4 1899.7 C797 1925 807 1946 826 1985 M816 1790 C818 1830 824 1862 837 1909 C843 1928 854 1950 870 1985 M859 1790 C861 1830 867.7 1862 879.8 1909 C886 1928 896.6 1950 913 1985" stroke-width="1.7"/>
<path d="M702.0 1765.2 h11.0 l4.0 3.4 h33.0 M704.7 1792.3 h10.8 l3.9 3.3 h32.2 M708.4 1828.6 h10.5 l3.8 3.2 h31.5 M714.0 1859.5 h10.2 l3.7 3.2 h30.8 M718.7 1886.6 h10.0 l3.6 3.1 h30.0 M724.3 1909.0 h9.8 l3.5 3.0 h29.2 M729.0 1925.8 h9.5 l3.5 2.9 h28.5 M734.5 1940.8 h9.2 l3.4 2.9 h27.8 M739.0 1952.1 h9.0 l3.3 2.8 h27.0 M744.8 1961.5 h8.8 l3.2 2.7 h26.2 M749.4 1969.9 h8.5 l3.1 2.6 h25.5 M754.0 1975.6 h8.2 l3.0 2.5 h24.8" stroke-width="3.1"/>
<path d="M755.0 1822.1 h3.0 l5.0 -3.4 h27.0 M758.7 1841.5 h2.9 l4.9 -3.3 h26.3 M762.5 1861.9 h2.8 l4.8 -3.2 h25.6 M767.7 1882.3 h2.8 l4.6 -3.1 h25.0 M772.7 1902.8 h2.7 l4.5 -3.1 h24.3 M779.2 1922.3 h2.6 l4.4 -3.0 h23.6 M785.2 1939.9 h2.5 l4.2 -2.9 h22.9 M791.3 1954.7 h2.5 l4.1 -2.8 h22.3 M798.8 1966.7 h2.4 l4.0 -2.7 h21.6 M806.2 1975.0 h2.3 l3.9 -2.6 h20.9 M812.0 1981.5 h2.2 l3.8 -2.5 h20.2 M802.5 1834.5 h28.0 l5.0 -3.6 h3.0 M806.2 1862.5 h27.1 l4.8 -3.5 h2.9 M810.9 1888.5 h26.2 l4.7 -3.4 h2.8 M816.5 1909.0 h25.4 l4.5 -3.3 h2.7 M822.0 1927.7 h24.5 l4.4 -3.1 h2.6 M827.7 1943.5 h23.6 l4.2 -3.0 h2.5 M834.2 1955.6 h22.8 l4.1 -2.9 h2.4 M839.8 1965.0 h21.9 l3.9 -2.8 h2.3 M846.3 1974.2 h21.0 l3.8 -2.7 h2.2 M842.6 1831.7 h35.0 l5.0 4.0 h3.0 M846.3 1853.0 h34.0 l4.9 3.9 h2.9 M851.0 1873.6 h33.1 l4.7 3.8 h2.8 M856.5 1894.0 h32.1 l4.6 3.7 h2.8 M863.0 1914.6 h31.1 l4.4 3.6 h2.7 M868.7 1933.3 h30.1 l4.3 3.4 h2.6 M875.2 1950.0 h29.2 l4.2 3.3 h2.5 M881.7 1961.2 h28.2 l4.0 3.2 h2.4 M888.2 1970.5 h27.2 l3.9 3.1 h2.3 M894.0 1977.0 h26.2 l3.8 3.0 h2.2" stroke-width="1.7"/>
</g>
<rect x="806" y="1764" width="774.4" height="49" fill="url(#underG)"/>
<path d="M895.0 946.0 C889.2 945.9 876.7 943.6 860.0 945.4 C843.3 947.2 814.9 951.7 795.0 957.0 C775.1 962.3 753.9 970.4 740.6 977.0 C727.3 983.6 720.8 989.9 715.0 996.8 C709.2 1003.7 707.9 1011.1 706.0 1018.6 C704.1 1026.1 703.8 1034.2 703.5 1042.0 C703.2 1049.8 702.4 1058.7 704.0 1065.7 C705.6 1072.7 707.9 1079.8 713.4 1083.8 C718.9 1087.8 727.1 1088.9 737.0 1090.0 C746.9 1091.1 767.0 1090.4 773.0 1090.5 L800 1090 L900 1000 Z" fill="#a8a8a8" stroke="#8e8e8e" stroke-width="1.5"/>
<path d="M892.0 955.0 C886.7 954.8 875.7 952.2 860.0 954.0 C844.3 955.8 817.0 960.3 798.0 965.5 C779.0 970.7 758.4 978.8 746.0 985.0 C733.6 991.2 728.6 996.5 723.5 1002.5 C718.4 1008.5 717.2 1014.2 715.5 1021.0 C713.8 1027.8 713.3 1036.0 713.0 1043.0 C712.7 1050.0 712.3 1057.5 713.5 1063.0 C714.7 1068.5 715.8 1073.0 720.0 1076.0 C724.2 1079.0 729.8 1080.1 739.0 1081.0 C748.2 1081.9 769.0 1081.4 775.0 1081.5 L800 1081 L900 1000 Z" fill="url(#mirrorG)" stroke="#4c4c4c" stroke-width="1.6"/>
<path id="bodyHalf" d="M1582.0 664.5 C1538.0 664.5 1497.0 665.2 1450.0 666.5 C1403.0 667.8 1341.7 670.6 1300.0 672.5 C1258.3 674.4 1229.0 676.3 1200.0 678.0 C1171.0 679.7 1138.3 681.8 1126.0 682.5 L1126.0 682.5 C1121.5 682.8 1108.0 681.6 1099.0 684.5 C1090.0 687.4 1080.4 693.2 1072.0 700.0 C1063.6 706.8 1064.5 704.5 1048.5 725.0 C1032.5 745.5 1000.1 788.0 976.0 823.0 C951.9 858.0 918.1 912.7 903.6 935.0 C889.1 957.3 897.4 944.3 889.0 957.0 C880.6 969.7 866.3 994.7 853.0 1011.0 C839.7 1027.3 822.7 1042.1 809.4 1054.8 C796.1 1067.5 783.3 1076.8 773.0 1087.0 C762.7 1097.2 753.8 1106.0 747.8 1116.0 C741.8 1126.0 738.8 1141.8 737.0 1147.0 L737.0 1147.0 C732.8 1162.5 720.2 1210.3 712.0 1240.0 C703.8 1269.7 693.0 1305.3 688.0 1325.0 C683.0 1344.7 684.7 1338.8 682.0 1358.0 C679.3 1377.2 674.1 1420.0 672.0 1440.0 C669.9 1460.0 670.0 1468.0 669.5 1478.0 C669.0 1488.0 668.4 1488.8 669.0 1500.0 C669.6 1511.2 671.5 1531.3 673.0 1545.0 C674.5 1558.7 676.5 1568.7 678.0 1582.0 C679.5 1595.3 678.8 1606.3 682.0 1625.0 C685.2 1643.7 692.5 1676.5 697.5 1694.0 C702.5 1711.5 707.4 1719.0 712.0 1730.0 C716.6 1741.0 720.7 1751.0 725.0 1760.0 C729.3 1769.0 732.7 1776.6 738.0 1784.0 C743.3 1791.4 749.8 1799.8 757.0 1804.5 C764.2 1809.2 772.8 1811.0 781.0 1812.5 C789.2 1814.0 799.7 1814.6 806.0 1813.5 C812.3 1812.4 815.3 1810.2 819.0 1806.0 C822.7 1801.8 823.5 1793.1 828.0 1788.0 C832.5 1782.9 836.7 1778.6 846.0 1775.5 C855.3 1772.4 877.7 1770.5 884.0 1769.5 L1582 1769.5 Z" fill="url(#bodyG)"/>
<g clip-path="url(#bodyClip)">
<path d="M676 1359 L900 1359 Q930 1362 932 1400 L932 1438 Q930 1446 915 1446 L672 1446 Z" fill="#000" opacity="0.07" filter="url(#blur6)"/>
<path d="M921 980 L1660 962 L1660 1095 Q1300 1098 1130 1150 Q1050 1180 1010 1195 Q940 1080 921 980 Z" fill="#fff" opacity="0.35" filter="url(#blur12)"/>
<path d="M1000 1180 Q1200 1095 1660 1085 L1660 1120 Q1250 1128 1030 1225 Z" fill="#000" opacity="0.025" filter="url(#blur12)"/>
<path d="M925 1722 Q930 1712 945 1712 L1140 1712 Q1152 1712 1150 1724 L1142 1770 L918 1770 Z" fill="#fff" opacity="0.35" filter="url(#blur6)"/>
</g>
<path d="M1126 682.5 Q1112 683 1099 684.5 Q1070 705 1057.6 759.5 Q1066 750 1084.8 741.4 Q1096 705 1126 682.5 Z" fill="#050505"/>
<path d="M1582.0 712.0 C1538.0 712.0 1488.7 713.6 1450.0 714.5 C1411.3 715.4 1386.7 715.8 1350.0 717.5 C1313.3 719.2 1267.9 721.8 1229.7 724.5 C1191.5 727.2 1145.1 731.1 1121.0 734.0 C1096.9 736.9 1095.6 737.8 1085.0 742.0 C1074.4 746.2 1062.2 756.6 1057.6 759.5 L1057.6 759.5 C1050.0 767.6 1026.8 789.0 1012.0 808.0 C997.2 827.0 981.5 852.4 968.8 873.6 C956.1 894.8 944.1 917.8 936.0 935.0 C927.9 952.2 922.7 970.0 920.0 977.0 L1115.6 970 Q1350 961.5 1582 961 Z" fill="#878787"/>
<path d="M1582.0 712.0 C1538.0 712.0 1488.7 713.6 1450.0 714.5 C1411.3 715.4 1386.7 715.8 1350.0 717.5 C1313.3 719.2 1267.9 721.8 1229.7 724.5 C1191.5 727.2 1145.1 731.1 1121.0 734.0 C1096.9 736.9 1095.6 737.8 1085.0 742.0 C1074.4 746.2 1062.2 756.6 1057.6 759.5 L1057.6 759.5 C1050.0 767.6 1026.8 789.0 1012.0 808.0 C997.2 827.0 976.0 862.7 968.8 873.6" fill="none" stroke="#8b8b8b" stroke-width="7.5" transform="translate(0,-2.2)"/>
<path d="M1057.6 759.5 C1050.0 767.6 1026.8 789.0 1012.0 808.0 C997.2 827.0 981.5 852.4 968.8 873.6 C956.1 894.8 944.1 917.8 936.0 935.0 C927.9 952.2 922.7 970.0 920.0 977.0" fill="none" stroke="#4d4d4d" stroke-width="1.6"/>
<path d="M1582.0 712.0 C1538.0 712.0 1488.7 713.6 1450.0 714.5 C1411.3 715.4 1386.7 715.8 1350.0 717.5 C1313.3 719.2 1267.9 721.8 1229.7 724.5 C1191.5 727.2 1145.1 731.1 1121.0 734.0 C1096.9 736.9 1095.6 737.8 1085.0 742.0 C1074.4 746.2 1062.2 756.6 1057.6 759.5" fill="none" stroke="#161616" stroke-width="2" transform="translate(0,1.5)"/>
<g clip-path="url(#winClip)">
<path d="M1582 810 L1160 810 Q1143 811 1139.5 829 L1106 990 L1582 990 Z" fill="#b2b2b2"/>
<path d="M1162 990 L1166 898 Q1167 886 1179 886 L1352 886 Q1364 886 1365 898 L1369 990 Z" fill="#878787"/>
<path d="M1582 886 L1494 886 Q1482.5 886 1482 898 L1477.5 990 L1582 990 Z" fill="#878787"/>
<path d="M1582 810 L1491 810 L1501.5 850 Q1507 869 1530 869 L1575 869 L1575 886 L1582 886 Z" fill="#878787"/>
</g>
<path d="M920.0 977.0 C919.6 981.5 916.6 992.2 917.5 1004.0 C918.4 1015.8 921.1 1034.2 925.4 1047.5 C929.7 1060.8 935.1 1068.1 943.5 1083.8 C951.9 1099.5 964.6 1122.4 976.0 1141.7 C987.4 1161.0 999.9 1179.2 1012.0 1199.7 C1024.1 1220.2 1037.0 1245.0 1048.5 1265.0 C1060.0 1285.0 1072.4 1307.3 1081.0 1320.0 C1089.6 1332.7 1092.7 1333.3 1100.0 1341.0 C1107.3 1348.7 1116.4 1358.4 1125.0 1366.0 C1133.6 1373.6 1141.0 1380.1 1151.8 1386.4 C1162.6 1392.7 1177.1 1399.3 1190.0 1404.0 C1202.9 1408.7 1216.1 1412.2 1229.4 1414.5 C1242.7 1416.8 1257.1 1417.3 1270.0 1418.0 C1282.9 1418.7 1300.8 1418.4 1307.0 1418.5 L1582 1418.5" fill="none" stroke="#111" stroke-width="1.3"/>
<path d="M738.5 1148 L835 1148 Q868 1149 874.5 1178 L898.5 1314 Q902 1344 871 1351 L683 1351.5 Q700 1268 738.5 1148 Z" fill="#f4f4f4" stroke="#f4f4f4" stroke-width="9" stroke-linejoin="round"/>
<path d="M738.5 1148 L835 1148 Q868 1149 874.5 1178 L898.5 1314 Q902 1344 871 1351 L683 1351.5 Q700 1268 738.5 1148 Z" fill="#9b3822"/>
<g clip-path="url(#lampClip)">
<rect x="700" y="1199.4" width="169.7" height="29.5" rx="5" fill="#c4432c"/>
<rect x="690" y="1246.8" width="183.5" height="6.2" rx="3" fill="#c4432c"/>
<rect x="680" y="1274.7" width="197.5" height="6.3" rx="3" fill="#c4432c"/>
<rect x="670" y="1308" width="207.5" height="28.8" rx="5" fill="#cfd2d6"/>
<rect x="670" y="1140" width="70" height="220" fill="url(#lampShade)"/>
</g>
<path d="M1151.8 1156.0 C1158.3 1169.2 1177.4 1211.5 1190.6 1235.0 C1203.8 1258.5 1218.1 1280.4 1231.0 1297.0 C1243.9 1313.6 1254.0 1325.2 1268.0 1334.5 C1282.0 1343.8 1292.5 1347.8 1314.8 1353.0 C1337.1 1358.2 1370.9 1362.8 1401.8 1365.5 C1432.7 1368.2 1470.0 1368.2 1500.0 1369.0 C1530.0 1369.8 1568.3 1369.8 1582.0 1370.0 L1582.0 1338.0 C1568.3 1338.0 1530.0 1338.3 1500.0 1338.0 C1470.0 1337.7 1432.7 1338.7 1401.8 1336.0 C1370.9 1333.3 1335.0 1326.4 1314.8 1322.0 C1294.6 1317.6 1291.0 1315.3 1280.7 1309.6 C1270.4 1303.9 1265.2 1301.9 1252.7 1287.9 C1240.2 1273.9 1222.8 1247.8 1206.0 1225.8 C1189.2 1203.8 1160.8 1167.6 1151.8 1156.0 Z" fill="#fff"/>
<path d="M1151.8 1156 C1195 1120 1300 1093 1582 1091.4 L1582 1122.5 L1400 1123 C1260 1124 1190 1136 1151.8 1156 Z" fill="url(#chromeG)"/>
<path d="M1151.8 1156 C1195 1120 1300 1093 1582 1091.4" fill="none" stroke="#9a9a9a" stroke-width="1.5"/>
<path d="M952 1731 L1132 1731 Q1139 1731 1138 1738 L1130 1781 Q1128.5 1788 1122 1788 L940 1788 Q933 1788 934.5 1781 L945 1738 Q946.5 1731 952 1731 Z" fill="url(#exhG)" stroke="#111" stroke-width="1.5"/>
<path d="M953 1734 L1130 1734 Q1135.5 1734 1134.5 1739 L1127 1780 Q1126 1785 1121 1785 L942 1785 Q936.5 1785 937.5 1780 L948 1739 Q949 1734 953 1734 Z" fill="none" stroke="#bdbdbd" stroke-width="1"/>
<rect x="1008.5" y="1741" width="55" height="36" rx="16" fill="#050505" stroke="#b5b5b5" stroke-width="1.2"/>
</g>
<use href="#carHalf" transform="translate(3160 0) scale(-1 1)"/>
<g clip-path="url(#bodyClip)"><rect x="660" y="1360" width="170" height="460" fill="url(#bumpHL)"/></g>
<g transform="translate(3160 0) scale(-1 1)"><g clip-path="url(#bodyClip)"><rect x="660" y="1360" width="190" height="460" fill="url(#bumpSH)"/></g></g>
<rect x="1333.4" y="1155.5" width="489.2" height="131.5" rx="15" fill="#f5f5f5" stroke="#050505" stroke-width="4.5"/>
<rect x="1329.5" y="1151.5" width="497" height="139.5" rx="18" fill="none" stroke="#e9e9e9" stroke-width="2.5"/>
</g>

<g id="hoses" fill="none">
<!-- hanging nozzle -->
<path d="M3309 812 L3326 792 Q3331 789 3334 793 L3334 850 L3322 840 Z" fill="#7b7b7b"/>
<path d="M3296 884 L3308 858 L3331 836 L3331 978 L3284 974.5 L3287 952 Q3296 961 3320 958.5 L3312.5 886 Z" fill="#3b3b39"/>
<path d="M3259.7 885 L3298 884 L3279 981 L3241 973 Z" fill="url(#handleG)"/>
<path d="M3295 809.7 Q3302 808 3309.4 810.7 L3329 826 L3329 852 Q3316 866 3315.6 878 Q3313 883 3305 883 L3259.7 885.5 Q3250 886 3247 878 L3250 846 Q3251 841 3255 838 Z" fill="url(#greenG)"/>
<path d="M3240 974 L3281 981.5 L3277 1005 L3236 997 Z" fill="#d2d2d2"/>
<path d="M3240 974 L3281 981.5 L3279.5 990 L3238.5 982 Z" fill="#ececec"/>
<path d="M3253 988 L3273 992 L3271 1003.5 L3251 999.5 Z" fill="#fff"/>
<!-- coaxial hose to car -->
<use href="#yHose" stroke="#555548" stroke-width="46"/>
<use href="#yHose" stroke="#c9b96f" stroke-width="42.5"/>
<use href="#yHose" stroke="#ecdb87" stroke-width="39"/>
<use href="#yHose" stroke="#a9a27a" stroke-width="21.5"/>
<use href="#yHose" stroke="#c9c5a4" stroke-width="18.5"/>
<use href="#yHose" stroke="#d5d1af" stroke-width="14"/>
</g>

<g id="cartank">
<!-- vehicle tank with filler neck -->
<path id="ctShape" d="M1410 1163.5 L2278 1163.5 L2289 1166 L2415.6 1122 L2428.6 1175 L2317.5 1214 L2317.5 1631 Q2317.5 1640 2308.5 1640 L1410 1640 Q1401 1640 1401 1631 L1401 1172.5 Q1401 1163.5 1410 1163.5 Z" fill="#d5d1af"/>
<path d="M1401 1328.5 L2317.5 1328.5 L2317.5 1631 Q2317.5 1640 2308.5 1640 L1410 1640 Q1401 1640 1401 1631 Z" fill="#ecdb87"/>
<!-- area right of seals is not vapour -->
<path d="M2377 1135.5 L2415.6 1122 L2428.6 1175 L2392 1188 Z" fill="#efefef"/>
<path d="M2289 1166 L2278 1163.5 L1410 1163.5 Q1401 1163.5 1401 1172.5 L1401 1631 Q1401 1640 1410 1640 L2308.5 1640 Q2317.5 1640 2317.5 1631 L2317.5 1214" fill="none" stroke="#1a1a1a" stroke-width="1.6"/>
<path d="M2289 1166 L2415.6 1122 M2317.5 1214 L2428.6 1175" fill="none" stroke="#111" stroke-width="2.2"/>
<!-- seals -->
<path d="M2361 1146 L2374 1141.5 L2378 1153 L2365 1157.5 Z" fill="#7c7c7c"/>
<path d="M2373.5 1180 L2387 1175.5 L2391 1187 L2377.5 1191.5 Z" fill="#7c7c7c"/>
<!-- flow arrows -->
<path d="M2260.4 1203.6 L2309 1178.4" stroke="#6e7584" stroke-width="4.8" fill="none"/>
<path d="M2327.6 1168.7 L2307.8 1187.6 L2299.6 1171.6 Z" fill="#6e7584"/>
<path d="M2301.8 1205 L2240 1243" stroke="#253551" stroke-width="4.8" fill="none"/>
<path d="M2202.4 1266 L2233.5 1231.5 L2247.5 1254.5 Z" fill="#253551"/>
</g>
<g id="carnozzle">
<!-- fuel flap -->
<path d="M2399 1082 L2505 1041 Q2514 1038 2518 1047 L2555 1160 Q2557 1168 2550 1171 L2449 1206 Q2441 1208 2438 1200 L2394 1095 Q2391 1086 2399 1082 Z" fill="#d9d9d9" stroke="#a9a9a9" stroke-width="1.5"/>
<!-- spout -->
<path d="M2434 1154 L2379 1161 Q2343 1166 2306 1201.6" fill="none" stroke="#9e9e9e" stroke-width="21"/>
<path d="M2434 1154 L2379 1161 Q2343 1166 2306 1201.6" fill="none" stroke="#cfcfcf" stroke-width="18"/>
<path d="M2434 1154 L2379 1161 Q2343 1166 2306 1201.6" fill="none" stroke="#e3e3e3" stroke-width="8"/>
<path d="M2436 1140.5 L2381 1148 L2381 1174 L2436 1167.5 Z" fill="url(#spoutG)" stroke="#a5a5a5" stroke-width="1"/>
<!-- collar -->
<path d="M2434 1134.5 L2466 1131.5 L2467 1168 L2437 1166.5 Q2433 1166 2433 1162 L2432 1139 Q2432 1135 2434 1134.5 Z" fill="url(#collarG)"/>
<!-- grip -->
<path d="M2547.6 1116 L2634 1148.5 L2624.5 1188 L2528 1160 Z" fill="url(#gripG)"/>
<!-- trigger guard -->
<path d="M2478 1166 L2530 1160 L2618 1185.5 L2597 1232 L2596 1238 L2570 1250 L2561 1249 L2496 1213 Q2489 1206 2486 1195 Z M2502 1186 Q2500 1198 2510 1206.5 L2556 1232 Q2566 1235 2572 1229 L2581.5 1219 L2596 1182 L2560 1171 Z" fill="#3a3a38" fill-rule="evenodd"/>
<path d="M2520 1176 L2583 1222 L2590 1205 L2542 1170 Z" fill="#3a3a38"/>
<!-- blue cap -->
<path d="M2503 1096.5 Q2507 1095 2511 1096.5 L2547 1110 Q2552 1112 2550.5 1117 L2543 1136 L2524 1166 Q2521 1170 2516 1169.5 L2469 1167 Q2465 1166.5 2464.5 1162 L2460 1131 Q2459.5 1126 2463 1122.5 L2472 1113 Z" fill="url(#blueG)"/>
<!-- ring -->
<path d="M2633.5 1148 L2657 1157 L2646.5 1195.5 L2623.5 1188 Z" fill="#bdbdbd"/>
<path d="M2633.5 1148 L2645 1152.5 L2635 1192 L2623.5 1188 Z" fill="url(#ringG)"/>
<path d="M2641 1176 L2651.5 1179.5 L2647.5 1194 L2637 1190.5 Z" fill="#fff"/>
</g>

</svg>
</body>
</html>
